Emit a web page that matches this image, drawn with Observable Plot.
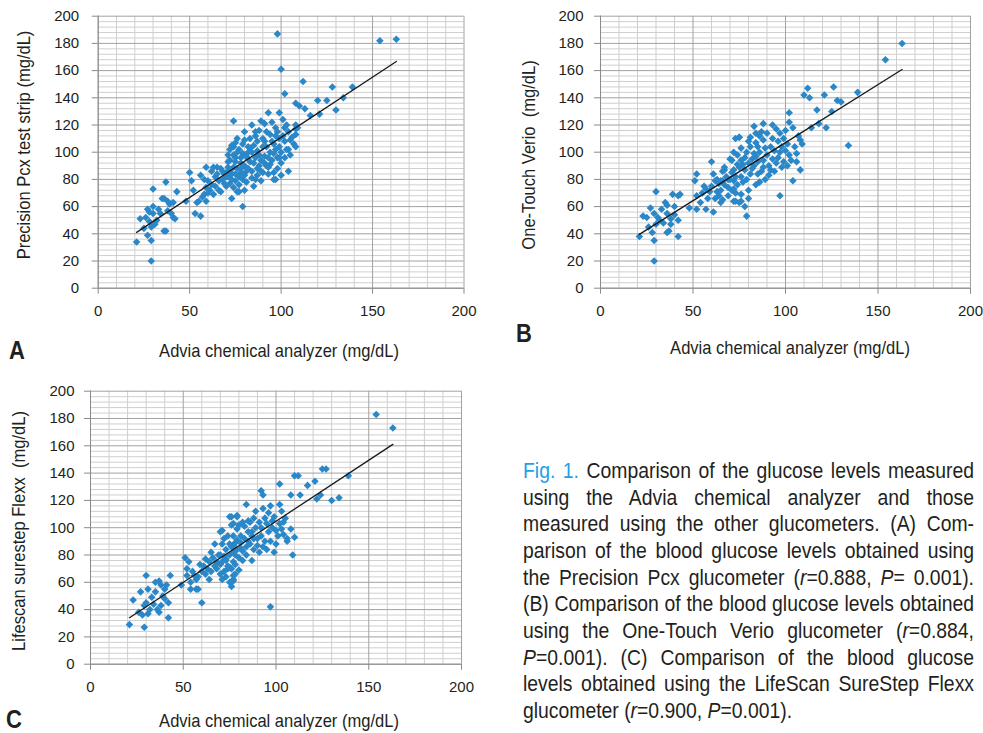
<!DOCTYPE html>
<html><head><meta charset="utf-8">
<script src="https://cdn.jsdelivr.net/npm/d3@7"></script>
<script src="https://cdn.jsdelivr.net/npm/@observablehq/plot@0.6"></script>
<style>
body{margin:0;background:#fff;}
#root{position:relative;width:983px;height:733px;overflow:hidden;font-family:"Liberation Sans",Arial,sans-serif;color:#231f20;}
.abs{position:absolute;white-space:pre;line-height:1;}
.ttl{font-size:19px;}
.let{font-size:25px;font-weight:bold;}
.svgbox{position:absolute;}
#cap{position:absolute;left:523px;top:458px;transform-origin:0 0;transform:scaleX(0.88);width:512.5px;font-size:22px;}
#cap div{height:26.67px;line-height:26.67px;text-align:justify;text-align-last:justify;white-space:nowrap;}
#cap div.last{text-align:left;text-align-last:left;}
#cap .fig{color:#1ea0e6;}
</style></head><body><div id="root"></div>
<script>
// tick labels
const xTicks = [0, 50, 100, 150, 200];
const yTicks = [0, 20, 40, 60, 80, 100, 120, 140, 160, 180, 200];

// Panel A: Advia vs Precision Pcx  [x, y]
const aPoints = [
[21,34],[23,51],[29,20],[30,73],[27,58],[29,35],[27,39],[29,45],[30,60],[30,55],[32,50],[34,55],[35,66],[37,78],[36,66],[38,64],[38,57],[36,42],[37,42],[39,62],[41,52],[42,51],[43,71],[41,63],[48,64],[26,52],[28,49],[31,47],[33,58],[40,55],[25,44],[28,56],
[50,85],[51,79],[52,72],[53,55],[54,63],[55,64],[56,53],[56,83],[58,69],[59,74],[59,89],[60,79],[59,64],[63,89],[65,89],[67,71],[63,69],[66,79],[68,86],[69,84],[70,82],[72,86],[62,76],[64,82],[61,72],[57,67],[66,72],[69,77],[67,88],[58,80],[64,75],[68,80],[60,70],[65,84],[62,86],
[73,66],[74,123],[74,104],[76,110],[75,96],[72,94],[74,89],[76,71],[70,75],[93,129],[99,129],[101,124],[84,120],[89,123],[91,121],[97,118],[80,115],[75,107],[73,105],[80,109],[86,112],[90,110],[94,113],[99,110],[101,112],[104,115],[108,117],[109,118],[107,106],[104,102],[97,102],[95,94],[92,90],[94,91],[88,98],[84,100],[82,95],[79,99],[77,102],[71,98],[71,89],[75,93],[78,85],[80,83],[87,83],[90,85],[93,89],[97,80],[100,83],[103,102],[108,104],[72,77],[74,74],[77,71],[79,60],[71,82],[70,85],[108,113],[104,86],[76,88],[78,92],[80,90],[82,88],[83,93],[85,92],[86,96],[88,90],[89,94],[91,97],[92,104],[94,100],[96,106],[98,96],[100,100],[102,108],[85,105],[87,108],[83,103],[81,97],[79,80],[81,78],[84,86],[86,80],[77,82],[73,84],[75,79],[77,76],[82,104],[88,116],[92,115],[95,122],[98,115],[103,120],[106,111],[100,92],[102,96],[105,98],[91,108],[78,96],[85,75],[89,79],[93,84],[80,72],[71,93],[76,100],[79,106],[83,110],[87,101],[90,104],[93,96],[96,99],[99,104],[81,86],[84,81],[87,88],[74,98],[72,102],[78,88],[82,100],[86,115],[95,108],[97,112],[99,96],[89,86],[91,92],[73,80],[75,84],[105,109],[102,118],[96,85],[98,88],
[98,187],[100,161],[102,143],[112,152],[154,182],[163,183],[128,148],[139,148],[134,140],[120,138],[125,138],[130,131],[121,128],[116,127],[113,132],[108,136],[110,134],[108,120],[96,80]
];

// Panel B: Advia vs One-Touch Verio
const bPoints = [
[21,38],[23,53],[29,20],[30,71],[27,59],[29,35],[28,41],[30,47],[31,52],[32,50],[39,69],[42,68],[43,69],[35,63],[36,61],[33,58],[36,55],[38,51],[36,41],[37,42],[42,50],[42,38],[40,60],[48,59],[26,45],[34,48],[29,55],[38,47],[40,54],[25,52],
[51,79],[52,84],[52,68],[52,58],[54,63],[56,75],[57,58],[61,56],[60,93],[59,71],[61,84],[62,79],[63,71],[65,63],[64,68],[66,79],[67,89],[69,74],[70,95],[72,64],[73,110],[75,111],[72,79],[74,91],[75,63],[55,70],[58,66],[60,75],[63,80],[65,72],[68,82],[66,86],[69,68],[57,73],[62,66],[64,77],[67,76],[70,80],[71,72],
[163,180],[154,168],[139,144],[126,148],[121,142],[112,147],[110,142],[113,140],[128,138],[130,137],[117,131],[125,130],[102,129],[118,121],[114,118],[122,118],[134,105],[102,122],[108,109],[109,106],[106,99],[103,94],[108,87],[104,79],[97,68],[79,53],[73,64],[76,64],[76,69],[80,72],[72,73],[85,84],[92,87],[98,89],[88,121],[93,120],[83,119],[75,111],[81,111],[88,109],[97,114],[100,116],[104,118],[76,103],[85,104],[92,104],[98,104],[78,96],[83,99],[88,94],[96,96],[71,94],[72,87],[78,87],[83,90],[88,89],[67,87],[65,79],[69,80],[76,82],[66,65],
[80,92],[82,95],[84,97],[86,100],[90,98],[94,101],[96,108],[99,110],[101,106],[95,92],[91,90],[87,86],[81,84],[79,80],[77,78],[74,76],[73,82],[75,89],[77,91],[79,100],[81,104],[84,107],[86,112],[90,114],[93,110],[100,101],[102,98],[105,104],[107,112],[95,117],[91,83],[89,80],[86,78],[84,76],[82,88],[74,98],[72,100],[76,94],[97,100],[99,93],[93,95],[85,93],[71,85],[73,70],[78,60],[80,66],[94,86],[101,90],[106,93],[89,103],[87,115],[84,114],[80,108]
];

// Panel C: Advia vs LifeScan SureStep Flexx
const cPoints = [
[21,29],[23,47],[29,27],[30,65],[27,53],[28,36],[29,43],[30,45],[31,55],[32,40],[33,49],[35,53],[37,61],[36,40],[37,38],[38,43],[40,55],[41,58],[42,45],[43,65],[42,34],[39,50],[26,38],[34,44],[38,58],[35,60],[40,48],[31,37],
[49,58],[51,78],[53,75],[52,65],[54,60],[54,55],[57,55],[58,55],[56,65],[59,73],[60,45],[62,77],[64,62],[65,82],[67,88],[68,75],[68,70],[70,73],[71,98],[72,92],[73,77],[76,108],[77,103],[77,62],[75,71],[77,82],[78,89],[79,109],[52,70],[55,68],[57,62],[60,68],[61,72],[63,70],[66,78],[69,80],[62,66],[65,68],[67,72],[64,75],[58,64],
[154,183],[163,173],[127,143],[125,143],[139,138],[110,138],[112,138],[121,134],[117,131],[102,132],[92,127],[93,124],[113,124],[108,124],[124,124],[122,121],[130,120],[134,122],[84,117],[97,116],[102,117],[93,114],[89,112],[103,112],[75,108],[79,108],[76,102],[82,104],[85,105],[105,107],[103,99],[108,99],[106,92],[106,90],[99,82],[109,80],[87,76],[97,42],[77,61],[77,65],[74,70],[77,75],[72,79],[75,80],[70,80],[81,85],[85,90],[88,92],[92,94],[96,97],[94,90],[90,87],[97,90],[87,97],[81,94],[74,94],[79,99],[83,101],[70,97],[71,88],[77,87],[71,75],
[73,84],[76,86],[78,80],[80,78],[82,83],[84,86],[86,88],[88,84],[90,92],[92,100],[95,103],[98,105],[100,98],[101,94],[99,108],[96,111],[94,107],[91,104],[89,100],[87,94],[85,97],[83,92],[81,89],[79,91],[77,94],[75,88],[73,76],[74,72],[76,70],[78,73],[80,69],[82,76],[84,80],[72,68],[70,66],[71,62],[73,64],[75,60],[76,57],[78,66],[79,84],[91,82],[93,86],[95,84],[100,88],[104,95],[102,103],[98,100],[86,104],[88,107],[80,102],[104,104],[110,93]
];

const xLabel = "Advia chemical analyzer (mg/dL)";
const yLabels = ["Precision Pcx test strip (mg/dL)", "One-Touch Verio  (mg/dL)", "Lifescan surestep Flexx  (mg/dL)"];
const panelLetters = ["A", "B", "C"];

const minorX = d3.range(0, 201, 10).filter(v => v % 50 !== 0);
const minorY = d3.range(0, 201, 4).filter(v => v % 20 !== 0);

const root = document.getElementById("root");

function panel(points, box, yPad) {
  const data = points.map(([x, y]) => ({x, y}));
  const chart = Plot.plot({
    width: box.w, height: box.h,
    marginLeft: box.mL, marginTop: box.mT, marginRight: box.mR, marginBottom: box.mB,
    style: {fontFamily: '"Liberation Sans", Arial, sans-serif', fontSize: "15px", color: "#231f20", background: "transparent", overflow: "visible"},
    x: {domain: [0, 200]},
    y: {domain: [0, 200]},
    marks: [
      Plot.ruleX(minorX, {stroke: "#cfcfcf", strokeWidth: 1}),
      Plot.ruleY(minorY, {stroke: "#cfcfcf", strokeWidth: 1}),
      Plot.ruleX(xTicks, {stroke: "#a2a2a2", strokeWidth: 1}),
      Plot.ruleY(yTicks, {stroke: "#a2a2a2", strokeWidth: 1}),
      Plot.axisX({ticks: xTicks, tickSize: 6, tickPadding: 11, stroke: "#8a8a8a", label: null, tickFormat: d => String(d)}),
      Plot.axisY({ticks: yTicks, tickSize: 6, tickPadding: yPad, stroke: "#8a8a8a", label: null, tickFormat: d => String(d)}),
      Plot.ruleX([0], {stroke: "#8a8a8a"}),
      Plot.ruleY([0], {stroke: "#8a8a8a"}),
      Plot.dot(data, {x: "x", y: "y", symbol: "diamond2", fill: "#2a87c8", stroke: "none", r: 3.4}),
      Plot.linearRegressionY(data, {x: "x", y: "y", stroke: "#1a1a1a", strokeWidth: 1.3, ci: 0})
    ]
  });
  const wrap = document.createElement("div");
  wrap.className = "svgbox";
  wrap.style.left = box.left + "px";
  wrap.style.top = box.top + "px";
  wrap.appendChild(chart);
  root.appendChild(wrap);
}

panel(aPoints, {left: 40, top: 5, w: 440, h: 325, mL: 57.7, mT: 10.7, mR: 16.5, mB: 42.3}, 13);
panel(bPoints, {left: 545, top: 5, w: 435, h: 325, mL: 55, mT: 10.7, mR: 10, mB: 42.3}, 11);
panel(cPoints, {left: 35, top: 380, w: 440, h: 330, mL: 55, mT: 10.7, mR: 14, mB: 46.3}, 10);

function text(str, cls, cx, cy, rot, sx) {
  const d = document.createElement("div");
  d.className = "abs " + cls;
  d.textContent = str;
  d.style.left = cx + "px";
  d.style.top = cy + "px";
  d.style.transform = `translate(-50%,-50%)${rot ? " rotate(-90deg)" : ""} scaleX(${sx})`;
  root.appendChild(d);
}
// axis titles
text(yLabels[0], "ttl", 22.5, 145, true, 0.87);
text(yLabels[1], "ttl", 527.5, 155, true, 0.87);
text(yLabels[2], "ttl", 18, 531, true, 0.87);
text(xLabel, "ttl", 279, 350, false, 0.87);
text(xLabel, "ttl", 790, 347, false, 0.87);
text(xLabel, "ttl", 279, 720, false, 0.87);
// panel letters
text(panelLetters[0], "let", 17, 350, false, 0.88);
text(panelLetters[1], "let", 524, 333, false, 0.88);
text(panelLetters[2], "let", 14, 719, false, 0.88);

// caption
const cap = document.createElement("div");
cap.id = "cap";
cap.innerHTML = [
  '<span class="fig">Fig. 1.</span> Comparison of the glucose levels measured',
  'using the Advia chemical analyzer and those',
  'measured using the other glucometers. (A) Com-',
  'parison of the blood glucose levels obtained using',
  'the Precision Pcx glucometer (<i>r</i>=0.888, <i>P</i>= 0.001).',
  '(B) Comparison of the blood glucose levels obtained',
  'using the One-Touch Verio glucometer (<i>r</i>=0.884,',
  '<i>P</i>=0.001). (C) Comparison of the blood glucose',
  'levels obtained using the LifeScan SureStep Flexx',
].map(s => `<div>${s}</div>`).join("") + '<div class="last">glucometer (<i>r</i>=0.900, <i>P</i>=0.001).</div>';
root.appendChild(cap);
</script>
</body></html>
